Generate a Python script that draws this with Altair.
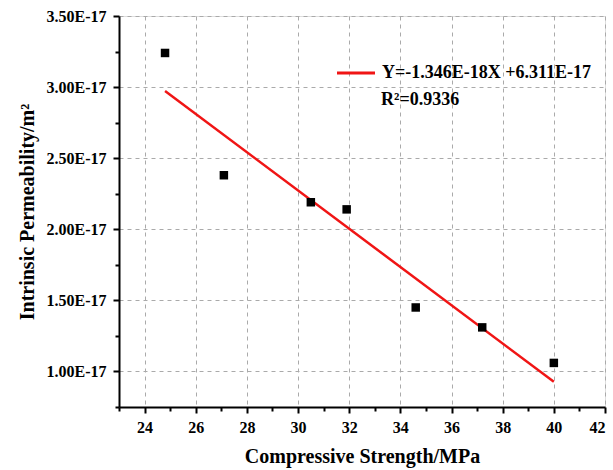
import altair as alt
import pandas as pd

strength = [24.8, 27.1, 30.5, 31.9, 34.6, 37.2, 40.0]
permeability = [3.24e-17, 2.38e-17, 2.19e-17, 2.14e-17, 1.45e-17, 1.31e-17, 1.06e-17]
fit_x = [24.8, 40.0]
fit_y = [2.973e-17, 0.927e-17]
x_major = [24, 26, 28, 30, 32, 34, 36, 38, 40, 42]
x_minor = [23, 25, 27, 29, 31, 33, 35, 37, 39, 41]
y_major = [1.0e-17, 1.5e-17, 2.0e-17, 2.5e-17, 3.0e-17, 3.5e-17]
y_minor = [0.75e-17, 1.25e-17, 1.75e-17, 2.25e-17, 2.75e-17, 3.25e-17]
eq_text = "Y=-1.346E-18X +6.311E-17"
r2_text = "R²=0.9336"

FONT = "Liberation Serif"

pts = pd.DataFrame({"x": strength, "y": permeability})
fit = pd.DataFrame({"x": fit_x, "y": fit_y})

xscale = alt.Scale(domain=[23, 42], nice=False, zero=False)
yscale = alt.Scale(domain=[0.75e-17, 3.5e-17], nice=False, zero=False)

x_axis = alt.Axis(
    values=x_major, orient="bottom", title="Compressive Strength/MPa",
    grid=True, gridDash=[4, 4], gridColor="#aaaaaa", gridWidth=1,
    domainColor="black", domainWidth=2, tickColor="black", tickWidth=2, tickSize=6,
    labelFont=FONT, labelFontSize=16, labelFontWeight="bold", labelColor="black", labelPadding=6,
    titleFont=FONT, titleFontSize=20, titleFontWeight="bold", titleColor="black", titlePadding=11,
)
y_axis = alt.Axis(
    values=y_major, orient="left", title="Intrinsic Permeability/m²",
    labelExpr="format(datum.value*1e17, '.2f') + 'E-17'",
    grid=True, gridDash=[4, 4], gridColor="#aaaaaa", gridWidth=1,
    domainColor="black", domainWidth=2, tickColor="black", tickWidth=2, tickSize=6,
    labelFont=FONT, labelFontSize=16, labelFontWeight="bold", labelColor="black", labelPadding=7,
    titleFont=FONT, titleFontSize=20, titleFontWeight="bold", titleColor="black", titlePadding=9,
)

minor = alt.Chart(pts).mark_point(opacity=0).encode(
    x=alt.X("x:Q", scale=xscale, axis=alt.Axis(values=x_minor, orient="bottom", labels=False, title=None,
                                                 grid=False, domain=False, tickColor="black", tickWidth=2, tickSize=4)),
    y=alt.Y("y:Q", scale=yscale, axis=alt.Axis(values=y_minor, orient="left", labels=False, title=None,
                                                 grid=False, domain=False, tickColor="black", tickWidth=2, tickSize=4)),
)

line = alt.Chart(fit).mark_line(color="#f01515", strokeWidth=2.5).encode(
    x=alt.X("x:Q", scale=xscale, axis=None),
    y=alt.Y("y:Q", scale=yscale, axis=None),
)

points = alt.Chart(pts).mark_square(size=72, color="black", opacity=1).encode(
    x=alt.X("x:Q", scale=xscale, axis=x_axis),
    y=alt.Y("y:Q", scale=yscale, axis=y_axis),
)

leg_line = alt.Chart(pd.DataFrame({"t": [eq_text]})).mark_rule(color="#f01515", strokeWidth=3).encode(
    x=alt.value(218), x2=alt.value(256), y=alt.value(57)
)
leg_eq = alt.Chart(pd.DataFrame({"t": [eq_text]})).mark_text(
    font=FONT, fontSize=18, fontWeight="bold", color="black", align="left", baseline="middle"
).encode(x=alt.value(263), y=alt.value(57), text="t:N")
leg_r2 = alt.Chart(pd.DataFrame({"t": [r2_text]})).mark_text(
    font=FONT, fontSize=18, fontWeight="bold", color="black", align="left", baseline="middle"
).encode(x=alt.value(262), y=alt.value(84), text="t:N")

chart = alt.layer(minor, line, points, leg_line, leg_eq, leg_r2).resolve_axis(
    x="independent", y="independent"
).properties(
    width=486, height=391,
    autosize=alt.AutoSizeParams(type="none"),
    padding={"left": 119, "top": 16, "right": 8, "bottom": 63},
).configure_view(stroke="black", strokeWidth=2).configure(background="white")

chart.save("out.html", embed_options={"renderer": "svg", "actions": False})
